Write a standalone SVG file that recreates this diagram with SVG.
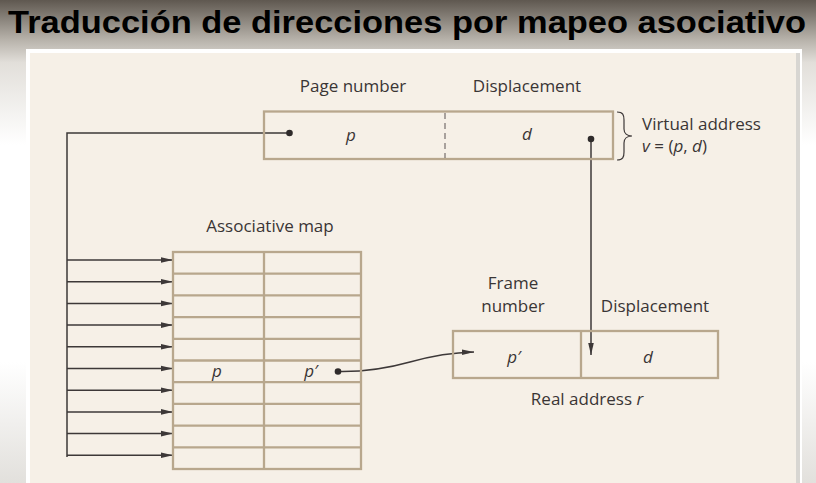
<svg xmlns="http://www.w3.org/2000/svg" width="816" height="483" viewBox="0 0 816 483">
<style>
.lbl{font-family:"Open Sans","Noto Sans","DejaVu Sans",sans-serif;font-size:17px;fill:#3a3535}
.it{font-style:italic}
.frame{fill:none;stroke:#b8a78d;stroke-width:2.3}
.conn{fill:none;stroke:#3d3838;stroke-width:1.5}
.dot{fill:#2f2b2b}
</style>
<defs>
<linearGradient id="bg" x1="0" y1="0" x2="0" y2="1">
<stop offset="0" stop-color="#5f5850"/>
<stop offset="0.08" stop-color="#b5b0a8"/>
<stop offset="0.13" stop-color="#e2dfda"/>
<stop offset="0.3" stop-color="#ffffff"/>
<stop offset="0.75" stop-color="#ffffff"/>
<stop offset="1" stop-color="#e2e0dc"/>
</linearGradient>
<marker id="ah" markerUnits="userSpaceOnUse" markerWidth="14" markerHeight="8" refX="12" refY="4" orient="auto">
<path d="M0,1.2 L12,4 L0,6.8 Z" fill="#3d3838"/>
</marker>
</defs>
<rect x="0" y="0" width="816" height="483" fill="url(#bg)"/>
<text x="8" y="33" font-family="'Liberation Sans Narrow','Liberation Sans',Arial,sans-serif" font-weight="bold" font-size="31" fill="#000" textLength="798" lengthAdjust="spacingAndGlyphs">Traducción de direcciones por mapeo asociativo</text>
<rect x="26" y="49" width="776" height="434" fill="#ffffff"/>
<rect x="30" y="53" width="766" height="430" fill="#f6f0e7"/>
<rect x="796" y="53" width="4" height="430" fill="#d8d6d2"/>

<g id="connectors">
<path class="conn" d="M289,133 H67 V457"/>
<path class="conn" marker-end="url(#ah)" d="M67,260 H173"/>
<path class="conn" marker-end="url(#ah)" d="M67,281.7 H173"/>
<path class="conn" marker-end="url(#ah)" d="M67,303.4 H173"/>
<path class="conn" marker-end="url(#ah)" d="M67,325.1 H173"/>
<path class="conn" marker-end="url(#ah)" d="M67,346.8 H173"/>
<path class="conn" marker-end="url(#ah)" d="M67,368.5 H173"/>
<path class="conn" marker-end="url(#ah)" d="M67,390.2 H173"/>
<path class="conn" marker-end="url(#ah)" d="M67,411.9 H173"/>
<path class="conn" marker-end="url(#ah)" d="M67,433.6 H173"/>
<path class="conn" marker-end="url(#ah)" d="M67,455.3 H173"/>
<path class="conn" marker-end="url(#ah)" d="M591,141 V355"/>
<path class="conn" marker-end="url(#ah)" d="M338,371.5 C362,372 385,369 410,362 C435,355 452,352.5 474,352"/>
</g>

<g id="virtual-address">
<text class="lbl" x="353" y="92" text-anchor="middle">Page number</text>
<text class="lbl" x="527" y="92" text-anchor="middle">Displacement</text>
<rect class="frame" x="264" y="111.5" width="349" height="47.5"/>
<line x1="445" y1="113" x2="445" y2="158" stroke="#5a5252" stroke-width="1" stroke-dasharray="6,4"/>
<text class="lbl it" x="351" y="141" text-anchor="middle">p</text>
<text class="lbl it" x="527" y="140" text-anchor="middle">d</text>
<circle class="dot" cx="289.5" cy="133" r="3.3"/>
<circle class="dot" cx="591" cy="139" r="3.3"/>
<path d="M617,112 C623,112 624,115 624,120 V129 C624,133 627,136 632,136 C627,136 624,139 624,143 V152 C624,157 623,160 617,160" fill="none" stroke="#3d3838" stroke-width="1.2"/>
<text class="lbl" x="642" y="130">Virtual address</text>
<text class="lbl" x="642" y="152"><tspan class="it">v</tspan> = (<tspan class="it">p</tspan>, <tspan class="it">d</tspan>)</text>
</g>

<g id="associative-map">
<text class="lbl" x="270" y="232" text-anchor="middle">Associative map</text>
<rect class="frame" x="173" y="252" width="188" height="217"/>
<line class="frame" x1="264" y1="252" x2="264" y2="469"/>
<path class="frame" d="M173,273.7 H361 M173,295.4 H361 M173,317.1 H361 M173,338.8 H361 M173,360.5 H361 M173,382.2 H361 M173,403.9 H361 M173,425.6 H361 M173,447.3 H361"/>
<text class="lbl it" x="217" y="377" text-anchor="middle">p</text>
<text class="lbl it" x="311" y="377" text-anchor="middle">p′</text>
<circle class="dot" cx="338" cy="371.5" r="3.3"/>
</g>

<g id="real-address">
<text class="lbl" x="513" y="289" text-anchor="middle">Frame</text>
<text class="lbl" x="513" y="312" text-anchor="middle">number</text>
<text class="lbl" x="655" y="312" text-anchor="middle">Displacement</text>
<rect class="frame" x="453" y="331" width="265" height="47"/>
<line class="frame" x1="581" y1="331" x2="581" y2="378"/>
<text class="lbl it" x="514" y="363" text-anchor="middle">p′</text>
<text class="lbl it" x="648" y="363" text-anchor="middle">d</text>
<text class="lbl" x="587" y="405" text-anchor="middle">Real address <tspan class="it">r</tspan></text>
</g>
</svg>
